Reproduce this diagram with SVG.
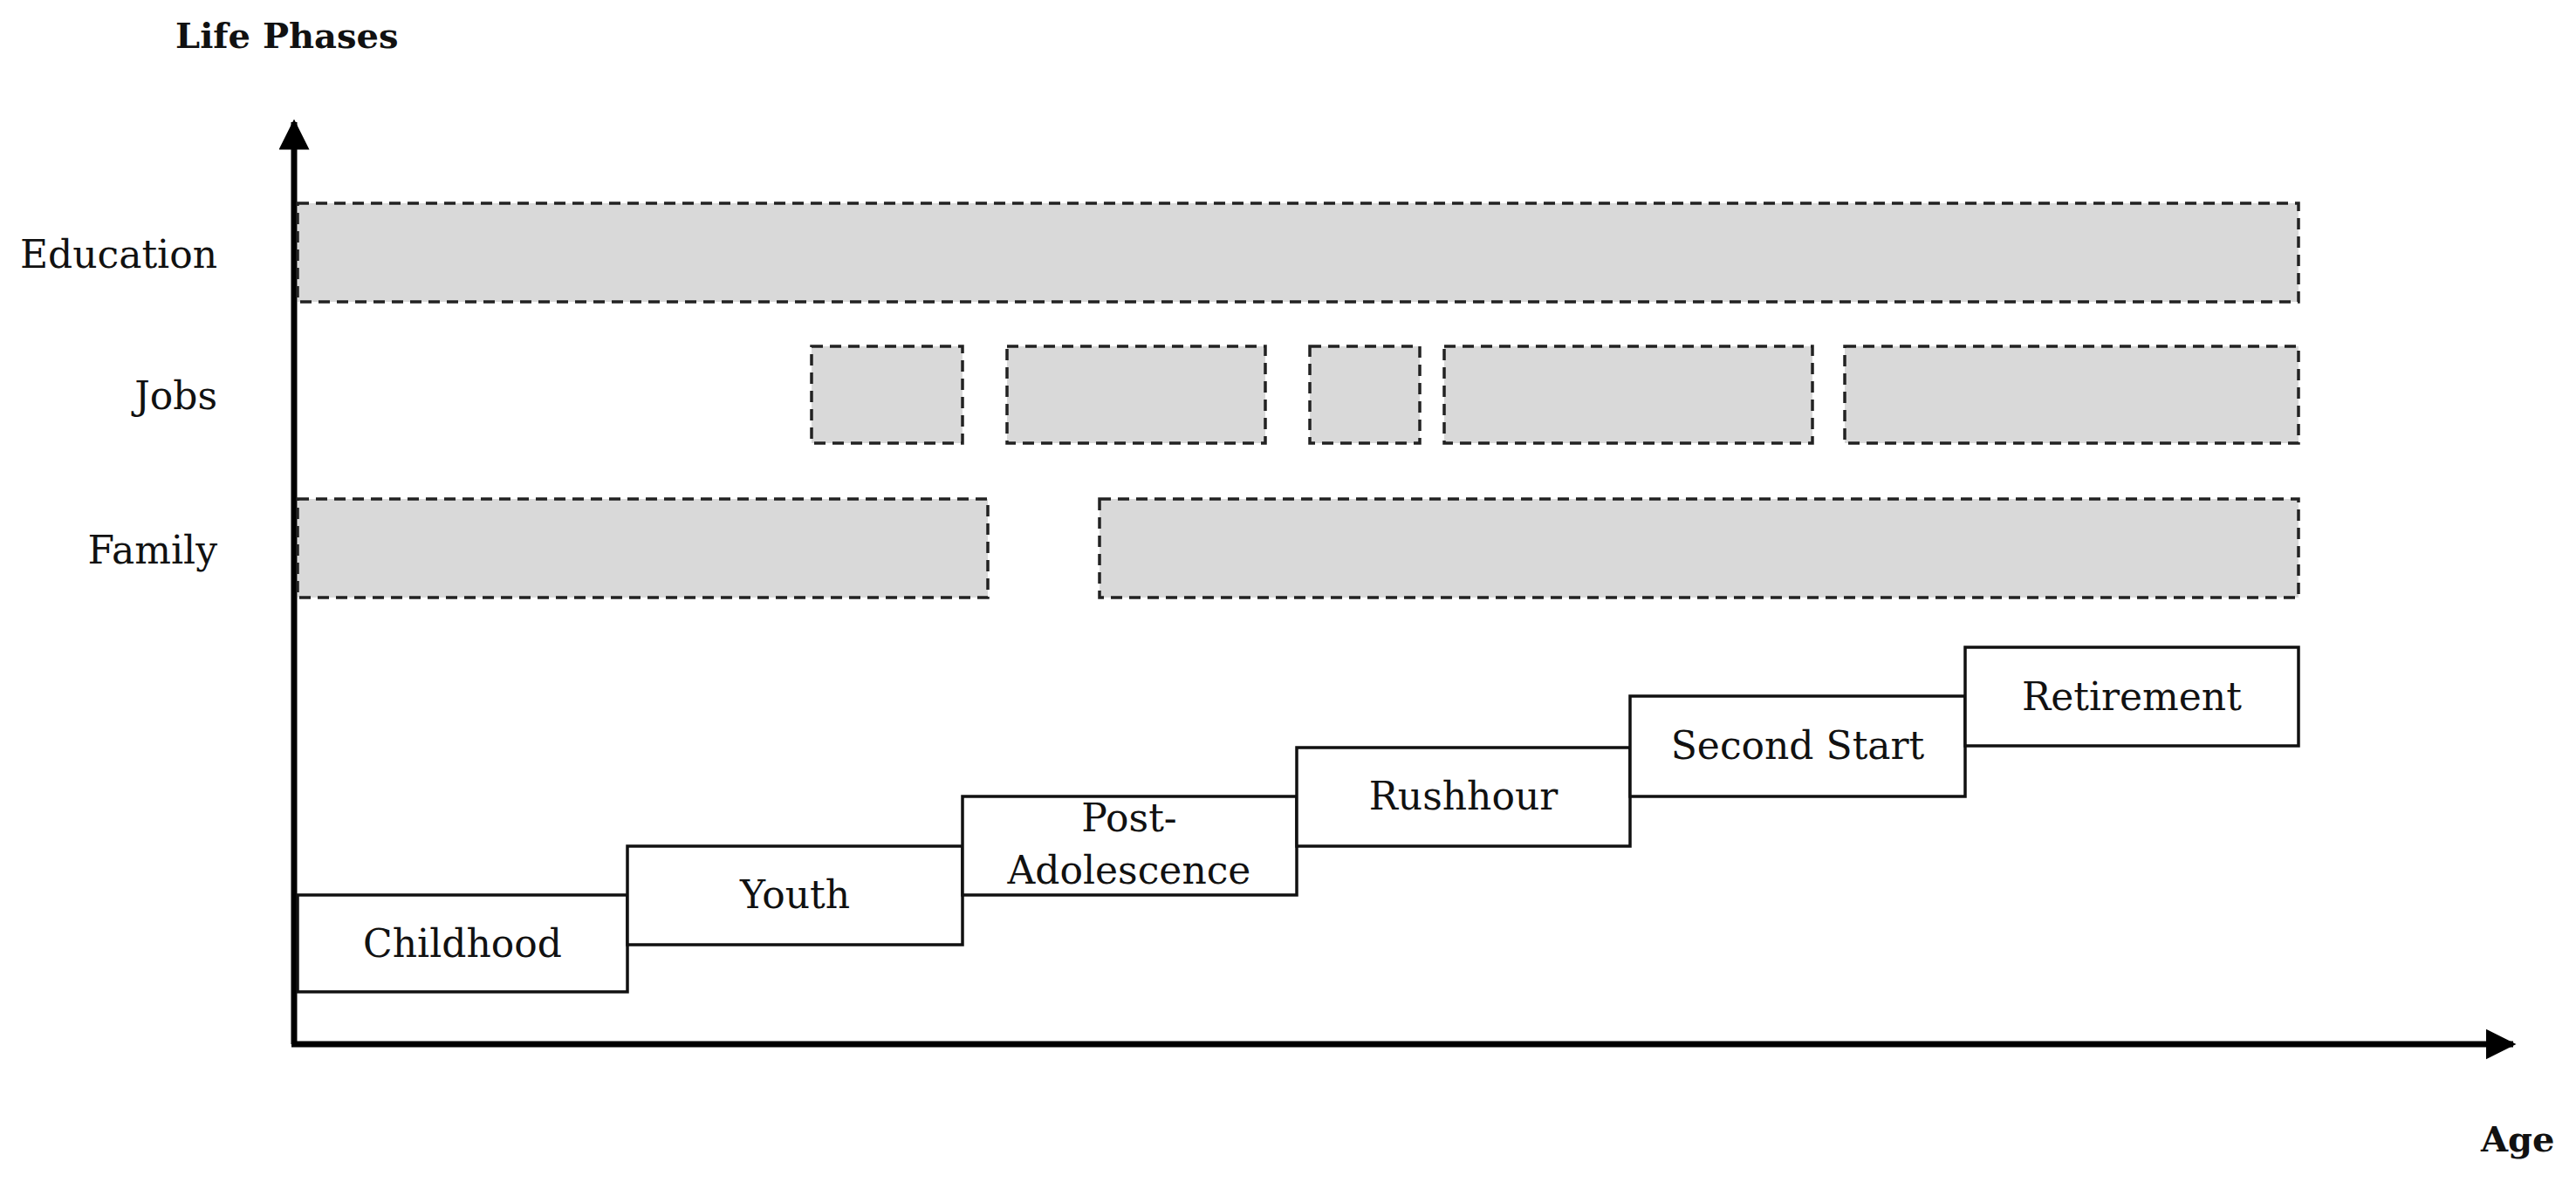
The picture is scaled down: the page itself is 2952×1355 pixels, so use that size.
<svg xmlns="http://www.w3.org/2000/svg" width="2952" height="1355" viewBox="0 0 2952 1355">
<defs>
<style>
.bar{fill:#d9d9d9;stroke:#222;stroke-width:3.5;stroke-dasharray:13 8}
.step{fill:#fff;stroke:#111;stroke-width:3.5}
.t{font-family:"DejaVu Serif","Liberation Serif",serif;font-size:44px;fill:#111}
.b{font-family:"DejaVu Serif","Liberation Serif",serif;font-size:40px;font-weight:bold;fill:#111}
.ax{stroke:#000;stroke-width:7;fill:none}
</style>
<marker id="ah" viewBox="0 0 10 10" refX="9" refY="5" markerWidth="5" markerHeight="5" orient="auto" markerUnits="strokeWidth">
<path d="M0,0 L10,5 L0,10 z" fill="#000"/>
</marker>
</defs>
<rect width="2952" height="1355" fill="#fff"/>
<g id="axes">
<line class="ax" x1="337" y1="1197" x2="337" y2="140" marker-end="url(#ah)"/>
<line class="ax" x1="334" y1="1197" x2="2880" y2="1197" marker-end="url(#ah)"/>
</g>
<text class="b" x="201" y="55">Life Phases</text>
<text class="b" x="2843" y="1320">Age</text>
<g id="education"><rect class="bar" x="341" y="233" width="2293" height="113"/><text class="t" x="249" y="307" text-anchor="end">Education</text></g>
<g id="jobs">
<rect class="bar" x="930" y="397" width="173" height="111"/>
<rect class="bar" x="1154" y="397" width="296" height="111"/>
<rect class="bar" x="1501" y="397" width="126" height="111"/>
<rect class="bar" x="1655" y="397" width="422" height="111"/>
<rect class="bar" x="2114" y="397" width="520" height="111"/>
<text class="t" x="249" y="469" text-anchor="end">Jobs</text>
</g>
<g id="family">
<rect class="bar" x="341" y="572" width="791" height="113"/>
<rect class="bar" x="1260" y="572" width="1374" height="113"/>
<text class="t" x="249" y="646" text-anchor="end">Family</text>
</g>
<g id="childhood"><rect class="step" x="341" y="1026" width="378" height="111"/><text class="t" x="530" y="1097" text-anchor="middle">Childhood</text></g>
<g id="youth"><rect class="step" x="719" y="970" width="384" height="113"/><text class="t" x="911" y="1041" text-anchor="middle">Youth</text></g>
<g id="postadolescence"><rect class="step" x="1103" y="913" width="383" height="113"/><text class="t" x="1294" y="953" text-anchor="middle">Post-</text><text class="t" x="1294" y="1013" text-anchor="middle">Adolescence</text></g>
<g id="rushhour"><rect class="step" x="1486" y="857" width="382" height="113"/><text class="t" x="1677" y="928" text-anchor="middle">Rushhour</text></g>
<g id="secondstart"><rect class="step" x="1868" y="798" width="384" height="115"/><text class="t" x="2060" y="870" text-anchor="middle">Second Start</text></g>
<g id="retirement"><rect class="step" x="2252" y="742" width="382" height="113"/><text class="t" x="2443" y="814" text-anchor="middle">Retirement</text></g>
</svg>
